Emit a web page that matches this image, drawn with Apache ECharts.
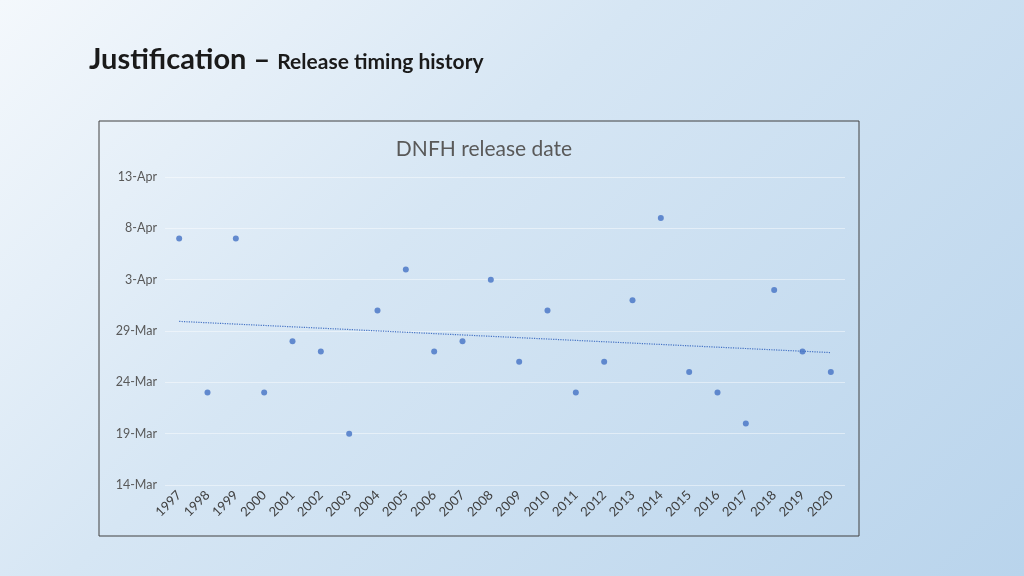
<!DOCTYPE html>
<html>
<head>
<meta charset="utf-8">
<script src="https://cdn.jsdelivr.net/npm/echarts@6/dist/echarts.min.js"></script>
<style>
  html, body { margin: 0; padding: 0; }
  #main { width: 1024px; height: 576px;
    background: linear-gradient(135deg, #f4f8fc 0%, #d6e6f4 40%, #b9d4ec 100%); }
</style>
</head>
<body>
<div id="main"></div>
<script>
    // 数据：年份 + 放流日期（距 3月14日 的天数）
    var years = ['1997','1998','1999','2000','2001','2002','2003','2004','2005','2006','2007','2008',
                 '2009','2010','2011','2012','2013','2014','2015','2016','2017','2018','2019','2020'];
    var releaseDay = [24, 9, 24, 9, 14, 13, 5, 17, 21, 13, 14, 20,
                      12, 17, 9, 12, 18, 26, 11, 9, 6, 19, 13, 11];
    var months = ['Jan','Feb','Mar','Apr','May','Jun','Jul','Aug','Sep','Oct','Nov','Dec'];

    // 线性趋势线
    var n = releaseDay.length, sx = 0, sy = 0, sxy = 0, sxx = 0;
    for (var i = 0; i < n; i++) { sx += i; sy += releaseDay[i]; sxy += i * releaseDay[i]; sxx += i * i; }
    var slope = (n * sxy - sx * sy) / (n * sxx - sx * sx);
    var icpt = (sy - slope * sx) / n;
    var trend = years.map(function (y, i) { return +(icpt + slope * i).toFixed(3); });

    function dayLabel(v) {
        var d = new Date(2021, 2, 14 + v);
        return d.getDate() + '-' + months[d.getMonth()];
    }

    var myChart = echarts.init(document.getElementById('main'));
    var option = {
        title: [{
            text: '{a|Justification – }{b|Release timing history}',
            left: 84, top: 40,
            textStyle: { rich: {
                a: { fontFamily: 'Lato', fontWeight: 'bold', fontSize: 29, color: '#1a1a1a' },
                b: { fontFamily: 'Lato', fontWeight: 'bold', fontSize: 21, color: '#1a1a1a', padding: [5, 0, 0, 0] }
            } }
        }, {
            text: 'DNFH release date',
            left: 479, top: 134, textAlign: 'center',
            textStyle: { fontFamily: 'Lato', fontWeight: 'normal', fontSize: 21, color: '#595959' }
        }],
        graphic: [{
            type: 'rect', shape: { x: 99, y: 121, width: 760, height: 415 },
            style: { fill: 'none', stroke: '#404040', lineWidth: 1 }, silent: true
        }],
        grid: { left: 165, right: 179, top: 177, bottom: 91 },
        xAxis: {
            type: 'category', data: years, boundaryGap: true,
            axisLine: { show: false }, axisTick: { show: false },
            axisLabel: { rotate: 45, color: '#404040', fontSize: 13, fontFamily: 'Lato', margin: 8 }
        },
        yAxis: {
            type: 'value', min: 0, max: 30, interval: 5,
            axisLine: { show: false }, axisTick: { show: false },
            axisLabel: { formatter: dayLabel, color: '#595959', fontSize: 12.5, fontFamily: 'Lato' },
            splitLine: { lineStyle: { color: 'rgba(255,255,255,0.45)' } }
        },
        series: [{
            type: 'scatter', data: releaseDay, symbolSize: 6,
            itemStyle: { color: '#4472c4' }
        }, {
            type: 'line', data: trend, symbol: 'none',
            lineStyle: { color: '#4472c4', type: 'dotted', width: 1.2 }
        }]
    };
    myChart.setOption(option);
</script>
</body>
</html>
